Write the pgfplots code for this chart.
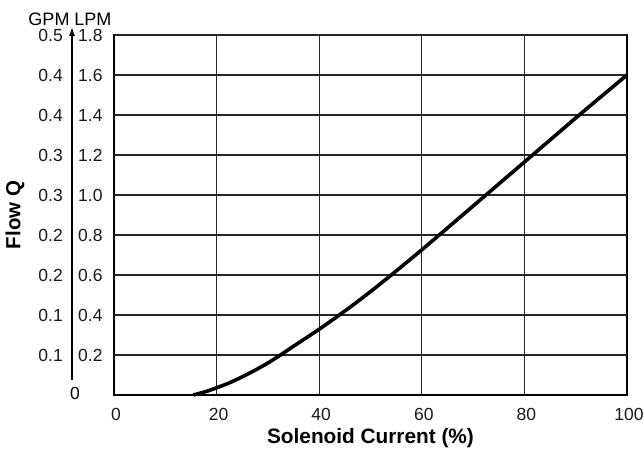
\documentclass[border=0pt]{standalone}
\usepackage{fontspec}
\setmainfont{Liberation Sans}
\usepackage{pgfplots}
\pgfplotsset{compat=1.18}
\usetikzlibrary{arrows.meta}
\begin{document}
\begin{tikzpicture}
\begin{axis}[
  scale only axis, width=513pt, height=360pt,
  xmin=0, xmax=100, ymin=0, ymax=1.8,
  clip=false,
  xtick={0,20,40,60,80,100},
  ytick={0.2,0.4,0.6,0.8,1.0,1.2,1.4,1.6,1.8},
  grid=major,
  major grid style={line width=1.2pt, color=black!85},
  axis line style={line width=1.6pt},
  major tick length=0pt,
  /pgf/number format/assume math mode=true,
  tick label style={font=\fontsize{17.5}{20}\selectfont, color=black!90},
  xticklabel style={anchor=north, inner sep=0pt, yshift=-13pt, xshift=2pt},
  y tick label style={/pgf/number format/fixed, /pgf/number format/fixed zerofill, /pgf/number format/precision=1},
  yticklabel style={anchor=west, inner sep=0pt, xshift=-36pt},
  extra y ticks={0.2,0.4,0.6,0.8,1.0,1.2,1.4,1.6,1.8},
  extra y tick labels={0.1,0.1,0.2,0.2,0.3,0.3,0.4,0.4,0.5},
  extra y tick style={yticklabel style={anchor=east, xshift=-15pt}},
  xlabel={Solenoid Current (\%)},
  xlabel style={font=\bfseries\fontsize{20.8}{24}\selectfont, at={(rel axis cs:0.5,0)}, anchor=base, yshift=-48pt, inner sep=0pt},
  ylabel={Flow Q},
  ylabel style={font=\bfseries\fontsize{20.5}{24}\selectfont, at={(rel axis cs:0,0.5)}, anchor=center, yshift=99pt, inner sep=0pt},
]
\addplot[line width=3.6pt, black, smooth] coordinates {
(15.5,0) (18,0.018) (20,0.036) (22.5,0.061) (25,0.091) (27.5,0.124) (30,0.160)
(32.5,0.201) (35,0.244) (40,0.329) (45,0.42)
(50,0.517) (55,0.62) (60,0.726) (65,0.835) (70,0.945) (75,1.055) (80,1.165)
(85,1.275) (90,1.385) (95,1.493) (100,1.60)
};
\coordinate (sw) at (rel axis cs:0,0);
\end{axis}
\draw[line width=1.3pt, -{Latex[length=9pt,width=6pt]}] ([xshift=-42pt,yshift=15pt]sw) -- ([xshift=-42pt,yshift=368pt]sw);
\node[font=\fontsize{17.5}{20}\selectfont, inner sep=0pt, anchor=center] at ([xshift=-39pt,yshift=2pt]sw) {0};
\node[font=\fontsize{18}{20}\selectfont, inner sep=0pt, anchor=base] at ([xshift=-44pt,yshift=370pt]sw) {GPM LPM};
\pgfresetboundingbox
\path[use as bounding box] ([xshift=-114pt,yshift=-56pt]sw) rectangle ([xshift=530pt,yshift=395pt]sw);
\end{tikzpicture}
\end{document}
